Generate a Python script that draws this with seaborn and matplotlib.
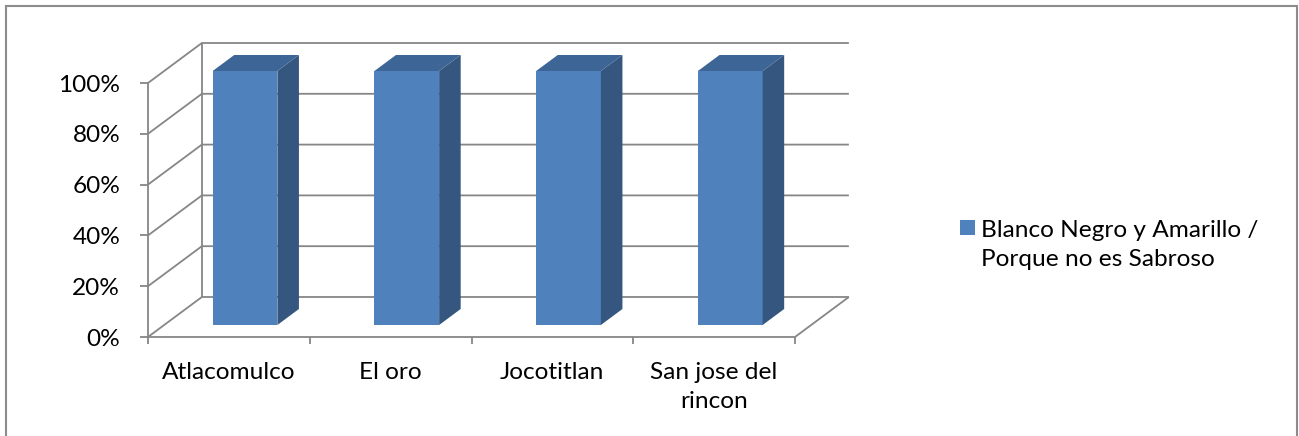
"""
Recreation of a 3D-style clustered column chart (Excel look) with seaborn.
"""
import matplotlib

matplotlib.use("Agg")
import pandas as pd
import seaborn as sns
from matplotlib import pyplot as plt
from matplotlib.patches import Polygon, Rectangle

categories: list[str] = ["Atlacomulco", "El oro", "Jocotitlan", "San jose del\nrincon"]
values: list[float] = [1.0, 1.0, 1.0, 1.0]
series_name: str = "Blanco Negro y Amarillo /\nPorque no es Sabroso"
y_ticks: list[float] = [0.0, 0.2, 0.4, 0.6, 0.8, 1.0]
y_tick_labels: list[str] = ["0%", "20%", "40%", "60%", "80%", "100%"]

FRONT: str = "#4F81BD"
SIDE: str = "#34567F"
TOP: str = "#3D6596"
GRID: str = "#868686"
FONT: str = "Lato"
FONT_SIZE: float = 17.6

# depth of the 3D box in data units (x in categories, y in value)
DEPTH_X: float = 0.333
DEPTH_Y: float = 0.1575
BAR_FRONT: float = 0.3
BAR_DEPTH: float = 0.4

W, H = 1299, 436


def draw_walls(ax: plt.Axes) -> None:
    """
    Draw the back wall, side wall and floor lines of the 3D box
    :param ax: axes holding the chart
    :type ax: plt.Axes
    :return: None
    :rtype: NoneType
    """
    x0, x1 = -0.5, len(categories) - 0.5
    kw = dict(color=GRID, lw=1.3, zorder=1, clip_on=False, solid_capstyle="butt")
    for t in y_ticks:
        ax.plot([x0, x0 + DEPTH_X, x1 + DEPTH_X], [t, t + DEPTH_Y, t + DEPTH_Y], **kw)
    ax.plot([x0 + DEPTH_X, x0 + DEPTH_X], [DEPTH_Y, 1 + DEPTH_Y], **kw)
    ax.plot([x1, x1 + DEPTH_X], [0, DEPTH_Y], **kw)


def add_3d_faces(ax: plt.Axes) -> None:
    """
    Move seaborn bars to mid depth and add their side and top faces
    :param ax: axes holding the bars
    :type ax: plt.Axes
    :return: None
    :rtype: NoneType
    """
    dx_front, dy_front = BAR_FRONT * DEPTH_X, BAR_FRONT * DEPTH_Y
    dx, dy = BAR_DEPTH * DEPTH_X, BAR_DEPTH * DEPTH_Y
    for patch in list(ax.patches):
        patch.set_x(patch.get_x() + dx_front)
        patch.set_y(patch.get_y() + dy_front)
        patch.set_zorder(3)
        patch.set_linewidth(0)
        patch.set_edgecolor("none")
        patch.set_clip_on(False)
        xa = patch.get_x()
        xb = xa + patch.get_width()
        ya = patch.get_y()
        yb = ya + patch.get_height()
        side = Polygon(
            [(xb, ya), (xb + dx, ya + dy), (xb + dx, yb + dy), (xb, yb)],
            closed=True, facecolor=SIDE, edgecolor="none", zorder=3, clip_on=False,
        )
        top = Polygon(
            [(xa, yb), (xb, yb), (xb + dx, yb + dy), (xa + dx, yb + dy)],
            closed=True, facecolor=TOP, edgecolor="none", zorder=3, clip_on=False,
        )
        ax.add_patch(side)
        ax.add_patch(top)


data = pd.DataFrame({"category": categories, "value": values})

sns.set_theme(style="white")
plt.rcParams["font.family"] = [FONT, "DejaVu Sans"]

fig = plt.figure(figsize=(W / 100, H / 100), dpi=100)
ax = fig.add_axes([148 / W, 1 - 337 / H, (795 - 148) / W, (337 - 83) / H])
ax.patch.set_alpha(0)

sns.barplot(data=data, x="category", y="value", color=FRONT, width=0.4,
            saturation=1, ax=ax, zorder=3, linewidth=0)
add_3d_faces(ax)
draw_walls(ax)

ax.set_xlim(-0.5, len(categories) - 0.5)
ax.set_ylim(0, 1)
ax.set_xlabel("")
ax.set_ylabel("")
ax.set_yticks(y_ticks)
ax.set_yticklabels(y_tick_labels, fontsize=FONT_SIZE, color="black")
ax.set_xticks(range(len(categories)))
ax.set_xticklabels(categories, fontsize=FONT_SIZE, color="black", linespacing=1.5,
                   va="top")
ax.set_xticks([i - 0.5 for i in range(len(categories) + 1)], minor=True)
ax.tick_params(axis="y", length=6, width=1.3, color=GRID, pad=14, left=True)
ax.tick_params(axis="x", which="major", length=0, pad=18)
ax.tick_params(axis="x", which="minor", length=5, width=1.3, color=GRID, bottom=True)
for side_name in ["top", "right"]:
    ax.spines[side_name].set_visible(False)
for side_name in ["left", "bottom"]:
    ax.spines[side_name].set_color(GRID)
    ax.spines[side_name].set_linewidth(1.3)
    ax.spines[side_name].set_zorder(2)

# legend drawn by hand: square on first line, two-line label
fig.patches.append(Rectangle((960 / W, 1 - 235 / H), 15 / W, 15 / H,
                             transform=fig.transFigure, facecolor=FRONT,
                             edgecolor="none"))
fig.text(981 / W, 1 - 245 / H, series_name, fontsize=FONT_SIZE, va="center",
         ha="left", linespacing=1.5, color="black")

# outer chart border
fig.patches.append(Rectangle((6 / W, -0.1), 1291 / W, 1.1 - 6 / H,
                             transform=fig.transFigure, facecolor="none",
                             edgecolor="#8C8C8C", linewidth=1.5))

fig.savefig("out.png", dpi=100)
